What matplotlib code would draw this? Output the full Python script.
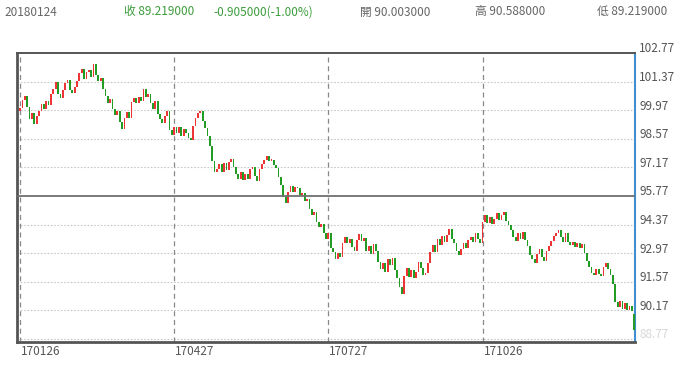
import numpy as np
import pandas as pd
import matplotlib
matplotlib.use('Agg')
import matplotlib.pyplot as plt
from matplotlib.transforms import offset_copy

plt.rcParams['font.family'] = ['Noto Sans CJK TC', 'DejaVu Sans']

# ---- data ----
dates = pd.bdate_range('2017-01-26', '2018-01-24')
closes = [
    100.10, 100.45, 100.65, 100.15, 99.55, 99.85, 99.30, 99.70, 99.95, 100.25,
    100.05, 100.40, 100.20, 100.75, 101.00, 101.35, 100.75, 100.55, 100.95, 101.30,
    101.45, 100.95, 100.80, 101.10, 101.40, 101.80, 102.00, 101.50, 101.85, 101.95,
    101.60, 102.25, 101.70, 101.40, 101.55, 101.00, 100.65, 100.30, 100.50, 100.05,
    99.75, 99.95, 99.40, 99.05, 99.60, 99.90, 99.60, 100.35, 100.55, 100.30,
    100.60, 100.40, 101.00, 100.60, 100.75, 100.30, 100.05, 100.40, 99.80, 99.55,
    99.35, 99.70, 99.95, 99.00, 98.75, 99.15, 98.85, 99.15, 98.70, 99.05,
    98.85, 98.60, 98.50, 99.20, 99.60, 99.85, 99.95, 99.45, 99.10, 98.70,
    98.20, 97.50, 96.95, 97.10, 97.35, 96.95, 97.40, 97.05, 97.45, 97.60,
    97.20, 96.85, 96.60, 96.95, 96.55, 96.85, 96.60, 97.10, 97.20, 96.75,
    96.50, 97.10, 97.35, 97.55, 97.75, 97.50, 97.55, 97.30, 97.15, 96.70,
    96.30, 95.70, 95.45, 95.95, 96.25, 95.95, 96.20, 96.15, 95.80, 95.90,
    95.50, 95.60, 95.15, 94.85, 95.00, 94.50, 94.25, 94.40, 93.95, 93.65,
    93.95, 93.20, 93.05, 92.70, 93.00, 92.80, 93.45, 93.75, 93.45, 93.65,
    93.25, 93.10, 93.60, 93.90, 93.55, 93.70, 93.10, 93.30, 92.95, 93.40,
    93.10, 92.55, 92.20, 92.50, 92.05, 92.70, 92.40, 92.75, 92.15, 91.75,
    91.30, 90.95, 91.85, 92.25, 91.80, 92.15, 91.75, 92.05, 92.55, 92.25,
    91.90, 92.00, 92.50, 93.05, 93.35, 93.05, 93.65, 93.35, 93.80, 93.50,
    93.85, 94.15, 93.65, 93.45, 93.10, 92.90, 93.15, 93.45, 93.20, 93.60,
    93.75, 93.50, 93.95, 93.65, 93.45, 94.50, 94.85, 94.45, 94.75, 94.40,
    94.65, 94.95, 94.60, 94.85, 95.00, 94.55, 94.35, 94.10, 93.75, 93.55,
    93.95, 93.65, 94.00, 93.60, 93.30, 92.90, 92.70, 92.50, 92.95, 93.15,
    92.80, 92.60, 93.10, 93.30, 93.55, 93.80, 93.95, 94.10, 93.75, 93.50,
    93.95, 93.50, 93.35, 93.50, 93.25, 93.45, 93.20, 93.40, 93.00, 92.60,
    92.30, 92.00, 91.90, 92.20, 91.95, 91.85, 92.30, 92.50, 92.20, 91.90,
    91.45, 90.60, 90.35, 90.65, 90.25, 90.55, 90.20, 90.40, 90.124, 89.219,
]
first_open = 99.95
last_open = 90.003

y_ticks = [102.77, 101.37, 99.97, 98.57, 97.17, 95.77, 94.37, 92.97, 91.57, 90.17, 88.77]
x_tick_dates = ['2017-01-26', '2017-04-27', '2017-07-27', '2017-10-26']
x_tick_labels = ['170126', '170427', '170727', '171026']
cross_level = 95.77

hdr_date = '20180124'
hdr_close = 89.219
hdr_change = -0.905
hdr_pct = -1.00
hdr_open = 90.003
hdr_high = 90.588
hdr_low = 89.219

# ---- candles ----
closes = np.array(closes)
opens = np.append(first_open, closes[:-1])
opens[-1] = last_open
x = np.arange(len(closes))
up = closes >= opens
cols = np.where(up, '#ee3535', '#229c22')
body = np.maximum(np.abs(closes - opens), 0.08)
bottom = np.minimum(opens, closes)

fig = plt.figure(figsize=(6.8, 3.66), dpi=100)
ax = fig.add_axes([17/680, 1-342/366, 618/680, 289/366])

ax.bar(x, body, bottom=bottom, width=0.75, color=cols, linewidth=0, zorder=3)

ax.set_xlim(-1.3, len(dates) - 0.7)
ax.set_ylim(88.62, 102.77)

# grid
for v in y_ticks[1:]:
    if v == cross_level:
        continue
    ax.axhline(v, color='#c8c8c8', lw=0.8, ls=(0, (1.5, 1.5)), zorder=1)
ax.axhline(cross_level, color='#707070', lw=1.3, zorder=4)

xpos = [dates.get_loc(pd.Timestamp(d)) for d in x_tick_dates]
for p in xpos:
    ax.axvline(p, color='#888888', lw=0.9, ls=(0, (4, 3)), zorder=2)

ax.set_xticks([])
ax.set_yticks([])
for s in ['left', 'bottom']:
    ax.spines[s].set_color('#555555')
    ax.spines[s].set_linewidth(2)
ax.spines['top'].set_color('#555555')
ax.spines['top'].set_linewidth(1.4)
ax.spines['right'].set_color('#3f8fd0')
ax.spines['right'].set_linewidth(1.5)

# tick labels
ytrans = offset_copy(ax.get_yaxis_transform(), fig=fig, x=4, y=4, units='dots')
for v in y_ticks:
    c = '#d8d8d8' if v == y_ticks[-1] else '#555555'
    ax.text(1.0, v, f'{v:.2f}', transform=ytrans, ha='left', va='center',
            fontsize=8.5, color=c)

xtrans = offset_copy(ax.get_xaxis_transform(), fig=fig, x=1, y=-3, units='dots')
for p, lab in zip(xpos, x_tick_labels):
    ax.text(p, 0, lab, transform=xtrans, ha='left', va='top', fontsize=8.5, color='#555555')

# header
gray = '#666666'
green = '#3c9c3c'
hy = 1 - 12/366
fig.text(4/680, hy, hdr_date, fontsize=8.5, color=gray, va='center')
fig.text(124/680, hy, f'收 {hdr_close:.6f}', fontsize=8.5, color=green, va='center')
fig.text(213/680, hy, f'{hdr_change:.6f}({hdr_pct:.2f}%)', fontsize=8.5, color=green, va='center')
fig.text(360/680, hy, f'開 {hdr_open:.6f}', fontsize=8.5, color=gray, va='center')
fig.text(475/680, hy, f'高 {hdr_high:.6f}', fontsize=8.5, color=gray, va='center')
fig.text(597/680, hy, f'低 {hdr_low:.6f}', fontsize=8.5, color=gray, va='center')

fig.savefig('out.png', dpi=100)
